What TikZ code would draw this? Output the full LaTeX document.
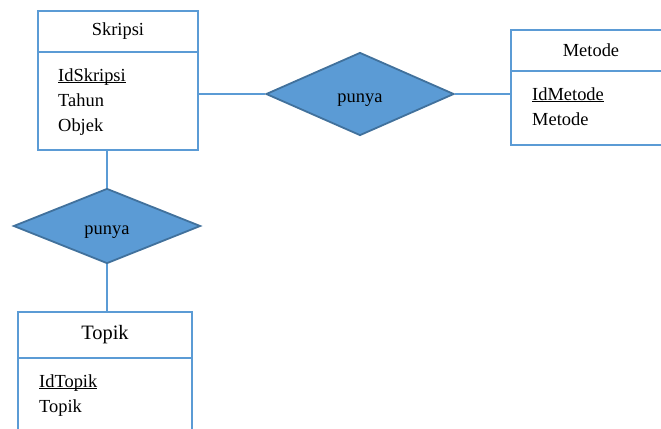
\documentclass[tikz,border=0pt]{standalone}
\usepackage{fontspec}
\setmainfont{Liberation Serif}
\newfontfamily\erfont{Liberation Serif}
\usetikzlibrary{shapes.geometric}
\definecolor{erblue}{HTML}{5B9BD5}
\definecolor{erdark}{HTML}{41719C}
\newcommand{\keyattr}[1]{\setbox0\hbox{#1}\rlap{\rule[-2bp]{\wd0}{0.9bp}}\box0}
\begin{document}
\begin{tikzpicture}[x=1bp,y=-1bp,
head/.style ={rectangle, draw=erblue, line width=1.8bp,
  minimum width=160bp, minimum height=41bp, inner sep=0pt,
  font=\erfont\fontsize{18.5}{25}\selectfont
},
body/.style ={rectangle, draw=erblue, line width=1.8bp,
  minimum width=160bp, inner sep=0pt
},
attr/.style ={anchor=north west, inner sep=0pt, align=left,
  font=\erfont\fontsize{18.5}{25}\selectfont
},
rel/.style ={diamond, draw=erdark, line width=1.8bp, fill=erblue,
  inner sep=0pt, text height=17bp, text depth=0pt,
  font=\erfont\fontsize{18.5}{25}\selectfont
},
link/.style ={draw=erblue, line width=1.4bp}]
\useasboundingbox (0,0) rectangle (661,428);
% entities
\node (skripsibody) at (118,101) [body, minimum height=98bp] {};
\node (skripsi) at (118,31.5) [head] {Skripsi};
\node (skripsiattr) at (58,68.4) [attr] {\keyattr{IdSkripsi}\\Tahun\\Objek};
\node (metodebody) at (591,108) [body, minimum height=74bp] {};
\node (metode) at (591,50.5) [head] {Metode};
\node (metodeattr) at (532,87.4) [attr] {\keyattr{IdMetode}\\Metode};
\node (topikbody) at (105,399) [body, minimum width=174bp, minimum height=82bp] {};
\node (topik) at (105,335) [head, minimum width=174bp, minimum height=46bp,
  font=\erfont\fontsize{20.5}{25}\selectfont] {Topik};
\node (topikattr) at (39,374.4) [attr] {\keyattr{IdTopik}\\Topik};
% relations
\node (punya1) at (360,94) [rel, minimum width=188bp, minimum height=83bp] {punya};
\node (punya2) at (107,226) [rel, minimum width=187bp, minimum height=75bp] {punya};
% links
\draw[link] (skripsibody.east |- punya1.west) -- (punya1.west);
\draw[link] (punya1.east) -- (metodebody.west |- punya1.east);
\draw[link] (punya2.north |- skripsibody.south) -- (punya2.north);
\draw[link] (punya2.south) -- (punya2.south |- topik.north);
\end{tikzpicture}
\end{document}
